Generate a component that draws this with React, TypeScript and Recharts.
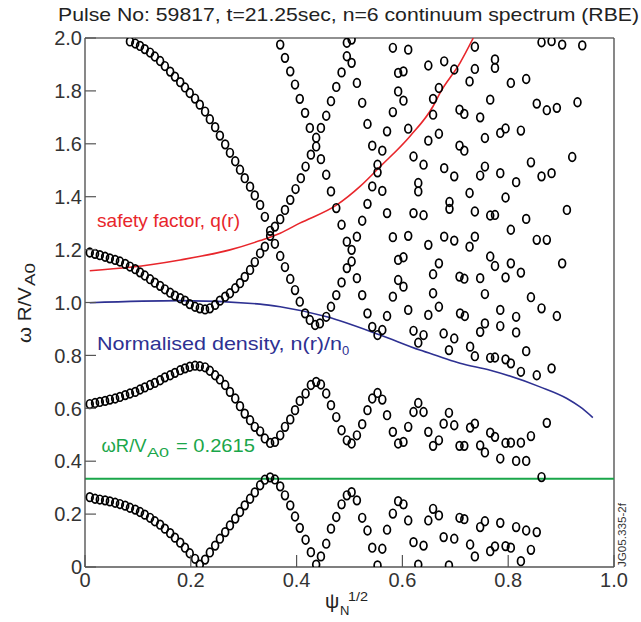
import React from 'react'
import { ComposedChart, Scatter, Line, XAxis, YAxis, ReferenceLine } from 'recharts'

type P = [number, number]

// lowest continuum branch (dense part)
const branchA: P[] = [
  [0.009, 0.264], [0.019, 0.258], [0.028, 0.255], [0.038, 0.252], [0.047, 0.248], [0.057, 0.243],
  [0.066, 0.238], [0.076, 0.232], [0.085, 0.224], [0.095, 0.217], [0.104, 0.208], [0.113, 0.198],
  [0.123, 0.186], [0.132, 0.173], [0.142, 0.16], [0.151, 0.145], [0.161, 0.128], [0.17, 0.111],
  [0.18, 0.092], [0.189, 0.073], [0.198, 0.052], [0.208, 0.031], [0.217, 0.009], [0.227, 0.028],
  [0.236, 0.055], [0.246, 0.081], [0.255, 0.107], [0.265, 0.132], [0.274, 0.157], [0.284, 0.183],
  [0.293, 0.208], [0.302, 0.233], [0.312, 0.258], [0.321, 0.282], [0.331, 0.309], [0.34, 0.33],
  [0.35, 0.339], [0.359, 0.331], [0.369, 0.305], [0.378, 0.271], [0.388, 0.233], [0.397, 0.191],
  [0.406, 0.148], [0.417, 0.103], [0.427, 0.056], [0.437, 0.009], [0.446, 0.04], [0.456, 0.088],
  [0.465, 0.145], [0.475, 0.189], [0.485, 0.237], [0.495, 0.271], [0.504, 0.283], [0.514, 0.252],
  [0.524, 0.186], [0.534, 0.138], [0.543, 0.073], [0.553, 0.006], [0.562, 0.069], [0.571, 0.141],
  [0.582, 0.202], [0.592, 0.249], [0.602, 0.237], [0.611, 0.176], [0.621, 0.094], [0.63, 0.009],
  [0.64, 0.081], [0.649, 0.176], [0.658, 0.22], [0.669, 0.195], [0.678, 0.113], [0.688, 0.006],
  [0.698, 0.107],
]

const lowerCloud: P[] = [
  [0.708, 0.186], [0.717, 0.181], [0.728, 0.085], [0.737, 0.04], [0.747, 0.151], [0.756, 0.173],
  [0.766, 0.06], [0.775, 0.078], [0.785, 0.167], [0.795, 0.079], [0.805, 0.073], [0.815, 0.151],
  [0.824, 0.022], [0.834, 0.138], [0.843, 0.065], [0.854, 0.132],
]

// middle branch
const branchB: P[] = [
  [0.009, 0.616], [0.019, 0.62], [0.028, 0.624], [0.038, 0.628], [0.047, 0.633], [0.057, 0.637],
  [0.066, 0.643], [0.076, 0.65], [0.085, 0.656], [0.095, 0.662], [0.104, 0.671], [0.113, 0.679],
  [0.123, 0.688], [0.132, 0.696], [0.142, 0.706], [0.151, 0.717], [0.161, 0.725], [0.17, 0.734],
  [0.18, 0.744], [0.189, 0.751], [0.198, 0.757], [0.208, 0.761], [0.217, 0.759], [0.227, 0.755],
  [0.236, 0.742], [0.246, 0.725], [0.255, 0.709], [0.265, 0.688], [0.274, 0.662], [0.284, 0.637],
  [0.293, 0.608], [0.302, 0.58], [0.312, 0.555], [0.321, 0.53], [0.331, 0.513], [0.34, 0.486],
  [0.35, 0.469], [0.359, 0.473], [0.369, 0.498], [0.378, 0.53], [0.388, 0.558], [0.397, 0.593],
  [0.406, 0.628], [0.417, 0.656], [0.427, 0.688], [0.437, 0.7], [0.446, 0.69], [0.456, 0.656],
  [0.465, 0.612], [0.475, 0.567], [0.485, 0.517], [0.495, 0.479], [0.504, 0.467], [0.514, 0.498],
  [0.524, 0.54], [0.534, 0.593], [0.543, 0.637], [0.553, 0.658], [0.562, 0.633], [0.571, 0.574],
  [0.582, 0.511], [0.592, 0.467], [0.602, 0.473], [0.611, 0.53], [0.621, 0.586], [0.63, 0.62],
  [0.64, 0.586], [0.649, 0.511], [0.658, 0.458], [0.669, 0.479], [0.678, 0.542], [0.688, 0.583],
  [0.698, 0.536], [0.708, 0.458], [0.717, 0.458], [0.728, 0.527], [0.737, 0.542], [0.747, 0.46],
  [0.756, 0.433], [0.766, 0.508], [0.775, 0.492], [0.785, 0.41], [0.795, 0.469], [0.805, 0.47],
  [0.815, 0.401], [0.824, 0.47], [0.834, 0.401], [0.843, 0.495], [0.873, 0.545], [0.863, 0.34],
]

// upper branch: 1.19 at axis, minimum near 0.22, rising to the top
const branchC: P[] = [
  [0.009, 1.189], [0.019, 1.184], [0.028, 1.179], [0.038, 1.173], [0.047, 1.167], [0.057, 1.161],
  [0.066, 1.155], [0.076, 1.146], [0.085, 1.136], [0.095, 1.126], [0.104, 1.114], [0.113, 1.102],
  [0.123, 1.088], [0.132, 1.075], [0.142, 1.063], [0.151, 1.05], [0.161, 1.037], [0.17, 1.026],
  [0.18, 1.016], [0.189, 1.007], [0.198, 0.994], [0.208, 0.984], [0.217, 0.978], [0.227, 0.974],
  [0.236, 0.978], [0.246, 0.991], [0.255, 1.007], [0.265, 1.022], [0.274, 1.035], [0.284, 1.054],
  [0.293, 1.073], [0.302, 1.097], [0.312, 1.123], [0.321, 1.153], [0.331, 1.186], [0.34, 1.211],
  [0.35, 1.252], [0.359, 1.287], [0.369, 1.315], [0.378, 1.35], [0.388, 1.388], [0.398, 1.429],
  [0.408, 1.47], [0.417, 1.514], [0.427, 1.559], [0.437, 1.59], [0.446, 1.66], [0.456, 1.706],
  [0.465, 1.761], [0.475, 1.815], [0.485, 1.87], [0.495, 1.931], [0.504, 1.906], [0.495, 1.982],
  [0.504, 1.994],
]

// branch falling from the top left to the minimum near 0.44
const branchD: P[] = [
  [0.085, 1.987], [0.095, 1.979], [0.104, 1.97], [0.113, 1.958], [0.123, 1.945], [0.132, 1.93],
  [0.142, 1.913], [0.151, 1.894], [0.161, 1.873], [0.17, 1.854], [0.18, 1.833], [0.189, 1.813],
  [0.198, 1.792], [0.208, 1.771], [0.217, 1.748], [0.227, 1.722], [0.236, 1.693], [0.246, 1.663],
  [0.255, 1.631], [0.265, 1.598], [0.274, 1.566], [0.284, 1.534], [0.293, 1.502], [0.302, 1.47],
  [0.312, 1.438], [0.321, 1.405], [0.331, 1.369], [0.34, 1.324], [0.35, 1.271], [0.359, 1.222],
  [0.369, 1.176], [0.378, 1.134], [0.388, 1.089], [0.397, 1.047], [0.406, 1.003], [0.416, 0.959],
  [0.425, 0.934], [0.435, 0.915], [0.444, 0.921], [0.456, 0.946], [0.465, 0.984], [0.475, 1.028],
  [0.485, 1.076], [0.495, 1.13], [0.504, 1.155],
]

const branchE: P[] = [
  [0.369, 1.975], [0.378, 1.925], [0.388, 1.874], [0.397, 1.824], [0.406, 1.77], [0.416, 1.717],
  [0.425, 1.66], [0.437, 1.623], [0.446, 1.542], [0.456, 1.483], [0.465, 1.42], [0.475, 1.357],
  [0.485, 1.294], [0.495, 1.23], [0.504, 1.199],
]

// scattered continuum points, x > 0.5
const upperCloud: P[] = [
  [0.582, 1.963], [0.611, 1.956], [0.649, 1.896], [0.592, 1.868], [0.602, 1.874], [0.514, 1.83],
  [0.669, 1.811], [0.592, 1.798], [0.524, 1.755], [0.602, 1.763], [0.658, 1.77], [0.582, 1.72],
  [0.658, 1.71], [0.534, 1.675], [0.571, 1.647], [0.611, 1.657], [0.649, 1.612], [0.669, 1.638],
  [0.543, 1.593], [0.562, 1.574], [0.621, 1.552], [0.64, 1.521], [0.553, 1.521], [0.553, 1.492],
  [0.63, 1.452], [0.63, 1.42], [0.543, 1.439], [0.562, 1.422], [0.534, 1.373], [0.571, 1.338],
  [0.621, 1.338], [0.64, 1.33], [0.524, 1.309], [0.514, 1.249], [0.582, 1.247], [0.611, 1.252],
  [0.649, 1.218], [0.592, 1.161], [0.602, 1.171], [0.669, 1.148], [0.658, 1.107], [0.514, 1.092],
  [0.592, 1.085], [0.602, 1.06], [0.524, 1.028], [0.582, 1.022], [0.658, 1.035],
  [0.737, 1.967], [0.679, 1.912], [0.698, 1.881], [0.737, 1.883], [0.775, 1.919], [0.775, 1.887],
  [0.727, 1.836], [0.805, 1.83], [0.834, 1.845], [0.863, 1.984], [0.882, 1.988], [0.902, 1.975],
  [0.94, 1.972], [0.766, 1.767], [0.708, 1.729], [0.717, 1.713], [0.747, 1.7], [0.854, 1.752],
  [0.873, 1.727], [0.892, 1.736], [0.931, 1.757], [0.756, 1.622], [0.785, 1.641], [0.795, 1.658],
  [0.824, 1.65], [0.708, 1.593], [0.717, 1.574], [0.679, 1.508], [0.698, 1.477], [0.756, 1.514],
  [0.747, 1.48], [0.785, 1.489], [0.815, 1.455], [0.843, 1.53], [0.863, 1.477], [0.882, 1.489],
  [0.921, 1.55], [0.727, 1.414], [0.795, 1.397], [0.689, 1.38], [0.689, 1.354], [0.737, 1.344],
  [0.766, 1.329], [0.775, 1.331], [0.834, 1.316], [0.911, 1.35], [0.679, 1.249], [0.698, 1.234],
  [0.737, 1.249], [0.727, 1.211], [0.805, 1.275], [0.854, 1.237], [0.873, 1.237], [0.766, 1.174],
  [0.775, 1.138], [0.805, 1.148], [0.824, 1.113], [0.902, 1.148], [0.708, 1.098], [0.717, 1.09],
  [0.747, 1.092], [0.795, 1.095], [0.756, 1.032], [0.843, 1.02],
]

const midCloud: P[] = [
  [0.669, 0.984], [0.611, 0.972], [0.534, 0.959], [0.571, 0.949], [0.649, 0.953], [0.621, 0.893],
  [0.64, 0.877], [0.63, 0.848], [0.678, 0.883], [0.698, 0.864], [0.688, 0.82], [0.543, 0.908],
  [0.562, 0.896], [0.553, 0.877], [0.709, 0.959], [0.718, 0.949], [0.863, 0.978], [0.892, 0.949],
  [0.785, 0.972], [0.815, 0.946], [0.756, 0.921], [0.747, 0.889], [0.785, 0.911], [0.815, 0.887],
  [0.728, 0.833], [0.737, 0.797], [0.766, 0.791], [0.775, 0.792], [0.795, 0.785], [0.805, 0.77],
  [0.834, 0.816], [0.824, 0.738], [0.854, 0.725], [0.882, 0.751],
]

// safety factor q(r) and normalised density profiles
const qCurve: P[] = [
  [0.009, 1.12], [0.085, 1.133], [0.18, 1.161], [0.274, 1.199], [0.331, 1.234], [0.369, 1.262],
  [0.406, 1.3], [0.476, 1.369], [0.52, 1.439], [0.558, 1.514], [0.614, 1.628], [0.658, 1.742],
  [0.671, 1.792], [0.709, 1.906], [0.734, 2.0],
]

const densityCurve: P[] = [
  [0.009, 0.999], [0.18, 1.007], [0.331, 0.994], [0.369, 0.984], [0.457, 0.946], [0.558, 0.877],
  [0.633, 0.82], [0.671, 0.795], [0.709, 0.77], [0.766, 0.744], [0.86, 0.681], [0.911, 0.637],
  [0.936, 0.605], [0.96, 0.565],
]

const resonanceLevel = 0.334
const xTicks = [0, 0.2, 0.4, 0.6, 0.8, 1.0]
const yTicks = [0, 0.2, 0.4, 0.6, 0.8, 1.0, 1.2, 1.4, 1.6, 1.8, 2.0]

const toPts = (a: P[]) => a.map(([x, y]) => ({ x, y }))
const fmt = (v: number) => (v === 0 ? '0' : v.toFixed(1))

const FONT = "'Liberation Sans', Arial, Helvetica, sans-serif"
const AXIS = '#555'

const Ring = (p: any) => (
  <ellipse cx={p.cx} cy={p.cy} rx={3.4} ry={4.3} fill="none" stroke="#000" strokeWidth={1.7} />
)

const YTick = (p: any) => (
  <g>
    <line x1={p.x + 3} x2={p.x + 14} y1={p.y} y2={p.y} stroke={AXIS} strokeWidth={1.2} />
    <text x={p.x} y={p.y} dy="0.36em" textAnchor="end" fontSize={20} fill="#333" fontFamily={FONT}>
      {fmt(p.payload.value)}
    </text>
  </g>
)

const XTick = (p: any) => (
  <g>
    <line x1={p.x} x2={p.x} y1={p.y - 6} y2={p.y - 18} stroke={AXIS} strokeWidth={1.2} />
    <text x={p.x} y={p.y} dy="0.71em" textAnchor="middle" fontSize={20} fill="#333" fontFamily={FONT}>
      {fmt(p.payload.value)}
    </text>
  </g>
)

const series = [branchA, lowerCloud, branchB, branchC, branchD, branchE, upperCloud, midCloud]

export default function App() {
  return (
    <div style={{ position: 'absolute', left: 0, top: 0, width: 641, height: 622, background: '#fff' }}>
      <ComposedChart width={641} height={622} margin={{ top: 38, right: 27, bottom: 15, left: 25 }}>
        <XAxis
          type="number"
          dataKey="x"
          domain={[0, 1]}
          ticks={xTicks}
          interval={0}
          allowDataOverflow
          height={40}
          tickSize={0}
          tickMargin={6}
          tickLine={false}
          axisLine={{ stroke: AXIS, strokeWidth: 1.4 }}
          tick={<XTick />}
        />
        <YAxis
          type="number"
          dataKey="y"
          domain={[0, 2]}
          ticks={yTicks}
          interval={0}
          allowDataOverflow
          width={60}
          tickSize={0}
          tickMargin={3}
          tickLine={false}
          axisLine={{ stroke: AXIS, strokeWidth: 1.4 }}
          tick={<YTick />}
        />
        <ReferenceLine y={2} stroke="#222" strokeWidth={1.2} />
        <ReferenceLine x={1} stroke={AXIS} strokeWidth={1.4} />
        <ReferenceLine y={resonanceLevel} stroke="#1aa64a" strokeWidth={2} />
        <Line data={toPts(qCurve)} dataKey="y" type="monotone" stroke="#e8262b" strokeWidth={1.6} dot={false} isAnimationActive={false} />
        <Line data={toPts(densityCurve)} dataKey="y" type="monotone" stroke="#2e3192" strokeWidth={1.6} dot={false} isAnimationActive={false} />
        {series.map((s, i) => (
          <Scatter key={i} data={toPts(s)} dataKey="y" shape={Ring} isAnimationActive={false} />
        ))}
      </ComposedChart>
      <svg width={641} height={622} style={{ position: 'absolute', left: 0, top: 0, pointerEvents: 'none' }} fontFamily={FONT}>
        <text x={58} y={21} fontSize={19} fill="#222" textLength={581} lengthAdjust="spacingAndGlyphs">
          Pulse No: 59817, t=21.25sec, n=6 continuum spectrum (RBE)
        </text>
        <g transform="translate(31,343) rotate(-90)" fill="#222">
          <text x={0} y={0} fontSize={19} textLength={56} lengthAdjust="spacingAndGlyphs">ω R/V</text>
          <text x={57} y={4} fontSize={14} textLength={23} lengthAdjust="spacingAndGlyphs">A0</text>
        </g>
        <text x={325} y={608} fontSize={20} fill="#222">ψ</text>
        <text x={340} y={615} fontSize={13} fill="#222">N</text>
        <text x={348} y={601} fontSize={13} fill="#222" textLength={20} lengthAdjust="spacingAndGlyphs">1/2</text>
        <text x={97} y={227} fontSize={19} fill="#e8262b" textLength={143} lengthAdjust="spacingAndGlyphs">
          safety factor, q(r)
        </text>
        <text x={97} y={350} fontSize={19} fill="#2e3192" textLength={245} lengthAdjust="spacingAndGlyphs">
          Normalised density, n(r)/n
        </text>
        <text x={342} y={355} fontSize={13} fill="#2e3192">0</text>
        <text x={101.5} y={452} fontSize={19} fill="#1aa64a" textLength={45} lengthAdjust="spacingAndGlyphs">ωR/V</text>
        <text x={147} y={457} fontSize={13} fill="#1aa64a" textLength={22} lengthAdjust="spacingAndGlyphs">A0</text>
        <text x={176} y={452} fontSize={19} fill="#1aa64a" textLength={79} lengthAdjust="spacingAndGlyphs">= 0.2615</text>
        <text transform="translate(626,567) rotate(-90)" fontSize={11.5} fill="#333" textLength={64} lengthAdjust="spacingAndGlyphs">
          JG05.335-2f
        </text>
      </svg>
    </div>
  )
}
